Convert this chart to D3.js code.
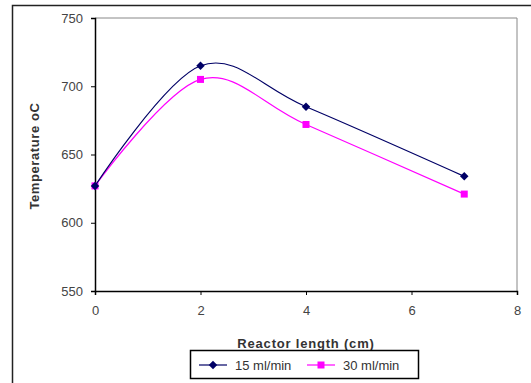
<!DOCTYPE html>
<html>
<head>
<meta charset="utf-8">
<script src="https://cdn.jsdelivr.net/npm/d3@7"></script>
<style>
  body { margin: 0; background: #fff; }
  svg { display: block; font-family: "Liberation Sans", Arial, sans-serif; }
</style>
</head>
<body>
<svg id="chart" width="531" height="383"></svg>
<script>
// data
var lengths = [0, 2, 4, 7];
var temp15 = [627, 715, 685, 634];
var temp30 = [627, 705, 672, 621];
var seriesNames = ["15 ml/min", "30 ml/min"];
var xTicks = [0, 2, 4, 6, 8];
var yTicks = [550, 600, 650, 700, 750];

var svg = d3.select("#chart");

// outer chart frame
svg.append("rect")
  .attr("x", 12.5).attr("y", 5.5)
  .attr("width", 530).attr("height", 400)
  .attr("fill", "none").attr("stroke", "#222").attr("stroke-width", 1.5);

var x = d3.scaleLinear().domain([0, 8]).range([95, 517]);
var y = d3.scaleLinear().domain([550, 750]).range([291, 18]);

// plot area border (top/right grey)
svg.append("path")
  .attr("d", "M" + x(0) + "," + y(750) + "H" + x(8) + "V" + y(550))
  .attr("fill", "none").attr("stroke", "#888").attr("stroke-width", 1);

var yAxis = svg.append("g")
  .attr("transform", "translate(" + x(0) + ",0)")
  .call(d3.axisLeft(y).tickValues(yTicks).tickSize(4).tickPadding(8));
var xAxis = svg.append("g")
  .attr("transform", "translate(0," + y(550) + ")")
  .call(d3.axisBottom(x).tickValues(xTicks).tickSize(4).tickPadding(11));

[xAxis, yAxis].forEach(function (g) {
  g.select(".domain").attr("stroke", "#000").attr("stroke-width", 1.5);
  g.selectAll(".tick line").attr("stroke", "#000").attr("stroke-width", 1);
  g.selectAll("text").attr("font-size", 13).attr("fill", "#444")
    .attr("font-family", "Liberation Sans, Arial, sans-serif");
});

// axis titles
svg.append("text")
  .attr("x", 306).attr("y", 348)
  .attr("text-anchor", "middle")
  .attr("font-size", 13).attr("font-weight", "bold").attr("fill", "#333")
  .attr("letter-spacing", 0.8)
  .text("Reactor length (cm)");
svg.append("text")
  .attr("transform", "translate(39,156) rotate(-90)")
  .attr("text-anchor", "middle")
  .attr("font-size", 13).attr("font-weight", "bold").attr("fill", "#333")
  .attr("letter-spacing", 0.6)
  .text("Temperature oC");

var line = d3.line()
  .x(function (d) { return x(d[0]); })
  .y(function (d) { return y(d[1]); })
  .curve(d3.curveCatmullRom.alpha(0));

// compact diamond like the spreadsheet marker
var diamond = {
  draw: function (ctx, size) {
    var r = Math.sqrt(size / 2);
    ctx.moveTo(0, -r); ctx.lineTo(r, 0); ctx.lineTo(0, r); ctx.lineTo(-r, 0); ctx.closePath();
  }
};

var series = [
  { name: seriesNames[0], values: temp15, color: "#000066", symbol: diamond, size: 36 },
  { name: seriesNames[1], values: temp30, color: "#ff00ff", symbol: d3.symbolSquare, size: 49 }
];

// draw the 30 series first so the dark one sits on top
series.slice().reverse().forEach(function (s) {
  var pts = lengths.map(function (l, i) { return [l, s.values[i]]; });
  svg.append("path")
    .datum(pts)
    .attr("d", line)
    .attr("fill", "none")
    .attr("stroke", s.color)
    .attr("stroke-width", 1.2);
  svg.selectAll(null)
    .data(pts)
    .enter()
    .append("path")
    .attr("transform", function (d) { return "translate(" + x(d[0]) + "," + y(d[1]) + ")"; })
    .attr("d", d3.symbol().type(s.symbol).size(s.size))
    .attr("fill", s.color);
});

// legend
var legend = svg.append("g").attr("transform", "translate(190,350)");
legend.append("rect")
  .attr("x", 0.5).attr("y", 0.5).attr("width", 228).attr("height", 28)
  .attr("fill", "#fff").attr("stroke", "#000").attr("stroke-width", 1.5);
series.forEach(function (s, i) {
  var g = legend.append("g").attr("transform", "translate(" + (9 + i * 108) + ",15)");
  g.append("line").attr("x1", 0).attr("x2", 28)
    .attr("stroke", s.color).attr("stroke-width", 1.2);
  g.append("path").attr("transform", "translate(14,0)")
    .attr("d", d3.symbol().type(s.symbol).size(s.size))
    .attr("fill", s.color);
  g.append("text").attr("x", 36).attr("y", 5)
    .attr("font-size", 13).attr("fill", "#333")
    .text(s.name);
});
</script>
</body>
</html>
